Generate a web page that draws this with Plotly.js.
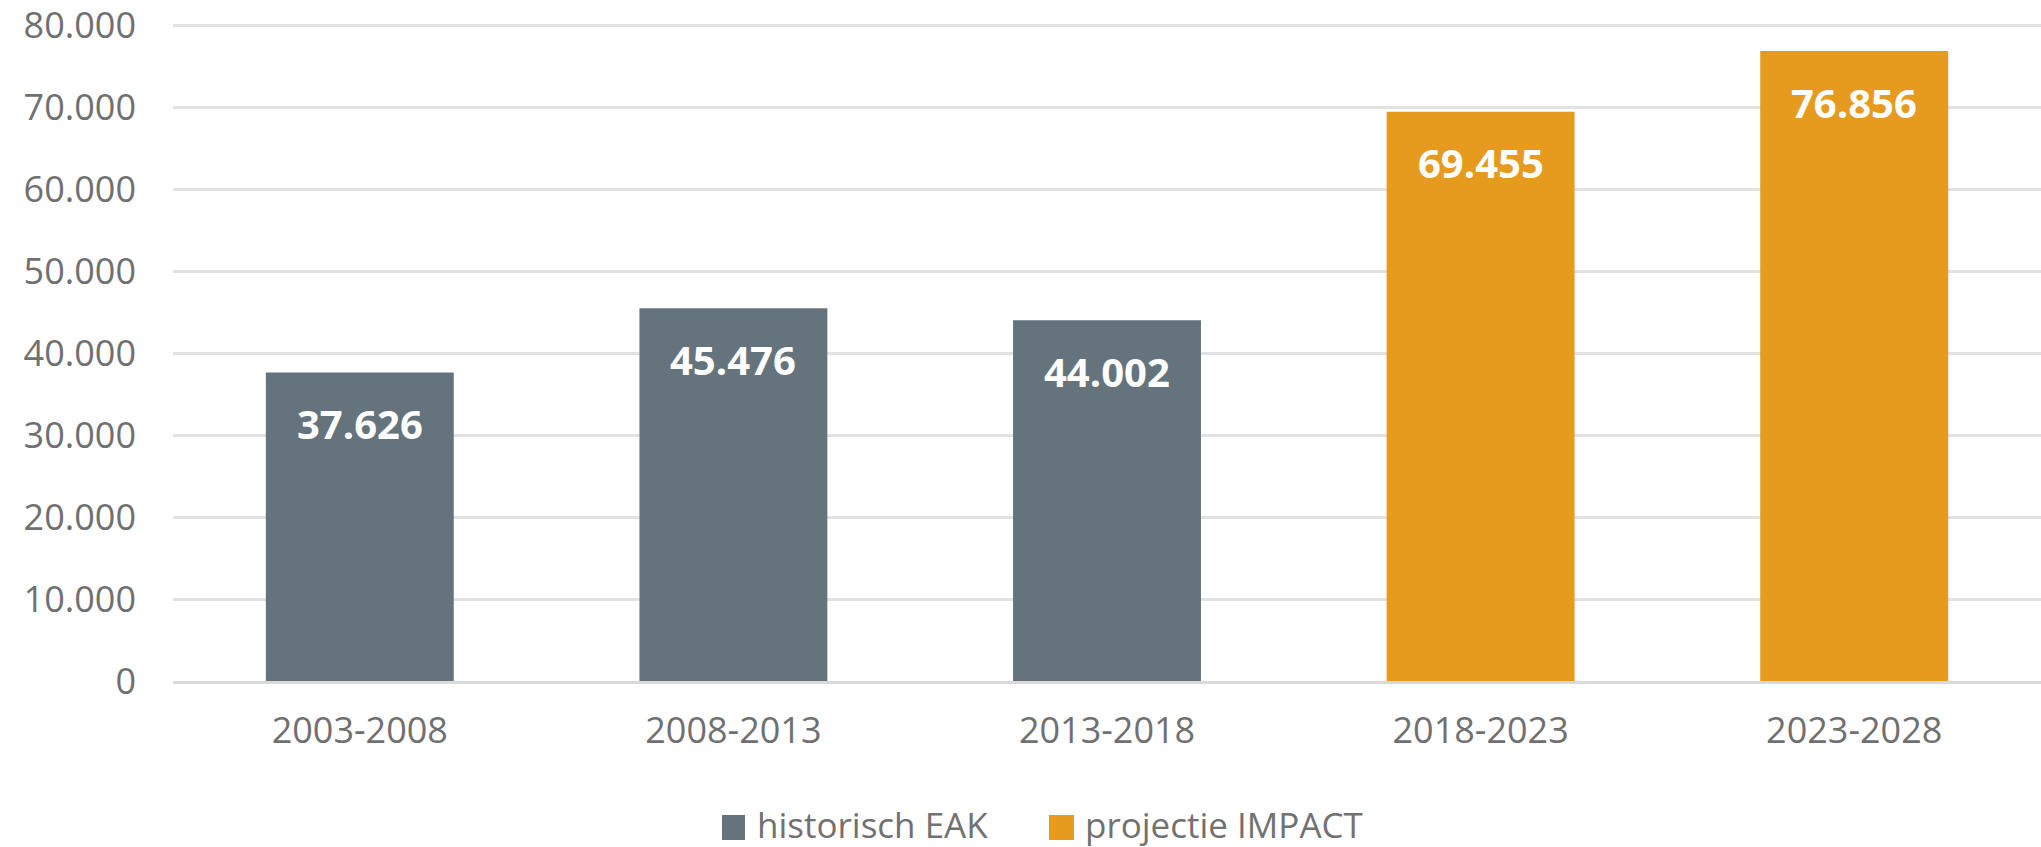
<!DOCTYPE html>
<html>
<head>
<meta charset="utf-8">
<script src="https://cdn.plot.ly/plotly-3.0.1.min.js"></script>
<style>
  html, body { margin: 0; padding: 0; background: #ffffff; }
  #chart { width: 2041px; height: 847px; }
</style>
</head>
<body>
<div id="chart"></div>
<script>
// Data
const categories = ['2003-2008', '2008-2013', '2013-2018', '2018-2023', '2023-2028'];
const historischCats = ['2003-2008', '2008-2013', '2013-2018'];
const historischValues = [37626, 45476, 44002];
const projectieCats = ['2018-2023', '2023-2028'];
const projectieValues = [69455, 76856];
const seriesNames = ['historisch EAK', 'projectie IMPACT'];
const yTickVals = [0, 10000, 20000, 30000, 40000, 50000, 60000, 70000, 80000];
const yTickText = ['0', '10.000', '20.000', '30.000', '40.000', '50.000', '60.000', '70.000', '80.000'];

const grayColor = '#65747C';
const orangeColor = '#E69B1F';
const seriesColors = [grayColor, orangeColor];
const fontFamily = '"Open Sans", "Liberation Sans", sans-serif';

function fmt(v) {
  return String(v).replace(/\B(?=(\d{3})+(?!\d))/g, '.');
}

const traces = [
  {
    type: 'bar', name: seriesNames[0], x: historischCats, y: historischValues,
    marker: { color: grayColor }, hoverinfo: 'x+y', showlegend: false
  },
  {
    type: 'bar', name: seriesNames[1], x: projectieCats, y: projectieValues,
    marker: { color: orangeColor }, hoverinfo: 'x+y', showlegend: false
  }
];

// Value labels inside the bars, near the top
const annotations = [];
historischCats.forEach((c, i) => annotations.push({ x: c, y: historischValues[i], text: fmt(historischValues[i]) }));
projectieCats.forEach((c, i) => annotations.push({ x: c, y: projectieValues[i], text: fmt(projectieValues[i]) }));
annotations.forEach(a => {
  a.xref = 'x'; a.yref = 'y'; a.showarrow = false; a.yanchor = 'middle'; a.yshift = -51;
  a.font = { family: fontFamily, size: 40, color: '#ffffff' };
  a.text = '<b>' + a.text + '</b>';
});

// Legend drawn below the plot (square swatches + labels)
const legendSwatchX = [[0.29390, 0.30621], [0.46895, 0.48234]];
const legendTextX = [0.31156, 0.48715];
const legendY0 = -0.2033, legendY1 = -0.2413, legendYText = -0.2170;
const shapes = [];
seriesNames.forEach((name, i) => {
  shapes.push({
    type: 'rect', xref: 'paper', yref: 'paper',
    x0: legendSwatchX[i][0], x1: legendSwatchX[i][1], y0: legendY0, y1: legendY1,
    fillcolor: seriesColors[i], line: { width: 0 }
  });
  annotations.push({
    xref: 'paper', yref: 'paper', x: legendTextX[i], y: legendYText,
    xanchor: 'left', yanchor: 'middle', showarrow: false, text: name,
    font: { family: fontFamily, size: 35, color: '#717171' }
  });
});

const layout = {
  width: 2041, height: 847,
  margin: { l: 173, r: 0, t: 22, b: 166, pad: 0 },
  paper_bgcolor: '#ffffff', plot_bgcolor: '#ffffff',
  barmode: 'overlay',
  bargap: 0.497,
  showlegend: false,
  xaxis: {
    type: 'category', categoryorder: 'array', categoryarray: categories,
    range: [-0.5, 4.5],
    showgrid: false, showline: true, linecolor: '#D9D9D9', linewidth: 3,
    ticks: '', ticklabelstandoff: 16,
    tickfont: { family: fontFamily, size: 36, color: '#707070' },
    zeroline: false
  },
  yaxis: {
    range: [0, 80400],
    tickmode: 'array',
    tickvals: yTickVals, ticktext: yTickText,
    showgrid: true, gridcolor: '#E2E2E2', gridwidth: 3,
    zeroline: false, showline: false,
    ticks: '', ticklabelstandoff: 36,
    ticklabeloverflow: 'allow',
    tickfont: { family: fontFamily, size: 36, color: '#707070' }
  },
  shapes: shapes,
  annotations: annotations
};

Plotly.newPlot('chart', traces, layout, { displayModeBar: false, staticPlot: true });
</script>
</body>
</html>
